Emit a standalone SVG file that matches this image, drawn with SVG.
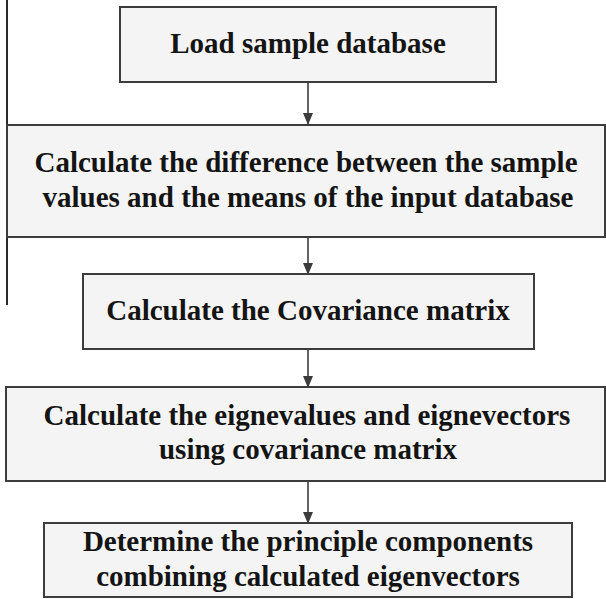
<svg xmlns="http://www.w3.org/2000/svg" width="606" height="599" viewBox="0 0 606 599">
<style>
.box{fill:#f4f4f4;stroke:#3c3c3c;stroke-width:2}
.t{font-family:"Liberation Serif","Times New Roman",serif;font-weight:bold;font-size:29px;fill:#141414;text-anchor:middle}
.c{stroke:#3c3c3c;stroke-width:1.6;fill:none;marker-end:url(#ah)}
</style>
<defs>
<marker id="ah" markerWidth="12" markerHeight="12" refX="11" refY="5" orient="auto" markerUnits="userSpaceOnUse" viewBox="0 0 12 10">
<path d="M0,0 L12,5 L0,10 Z" fill="#3c3c3c"/>
</marker>
</defs>
<rect width="606" height="599" fill="#ffffff"/>
<line x1="7" y1="0" x2="7" y2="305" stroke="#2a2a2a" stroke-width="2"/>
<g id="connectors">
<line class="c" x1="308" y1="82" x2="308" y2="124"/>
<line class="c" x1="308" y1="237" x2="308" y2="274"/>
<line class="c" x1="308" y1="349" x2="308" y2="387"/>
<line class="c" x1="308" y1="481" x2="308" y2="523"/>
</g>
<g id="n1">
<rect class="box" x="120" y="7" width="376" height="75"/>
<text class="t" x="308" y="53">Load sample database</text>
</g>
<g id="n2">
<rect class="box" x="7" y="125" width="598" height="112"/>
<text class="t" x="306" y="172">Calculate the difference between the sample</text>
<text class="t" x="308" y="207">values and the means of the input database</text>
</g>
<g id="n3">
<rect class="box" x="83" y="274" width="451" height="75"/>
<text class="t" x="308" y="320">Calculate the Covariance matrix</text>
</g>
<g id="n4">
<rect class="box" x="6" y="387" width="599" height="94"/>
<text class="t" x="307" y="425">Calculate the eignevalues and eignevectors</text>
<text class="t" x="308" y="459">using covariance matrix</text>
</g>
<g id="n5">
<rect class="box" x="44" y="523" width="528" height="74"/>
<text class="t" x="308" y="551">Determine the principle components</text>
<text class="t" x="308" y="586">combining calculated eigenvectors</text>
</g>
</svg>
